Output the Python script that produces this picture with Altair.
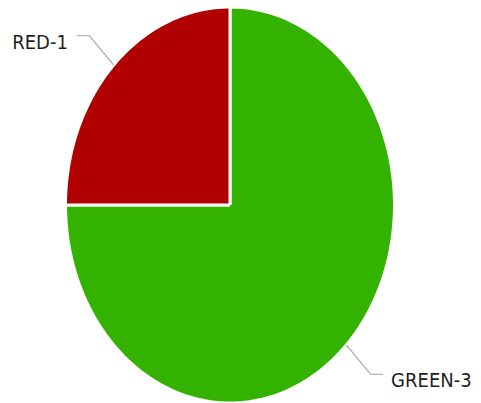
import altair as alt
import pandas as pd

# Data (in drawing order, clockwise from 12 o'clock)
categories = ["GREEN-3", "RED-1"]
values = [3, 1]
colors = ["#33b200", "#b00000"]

df = pd.DataFrame({"category": categories, "value": values, "idx": list(range(len(categories)))})

N = 120          # points along each arc
LEAD = 1.21      # leader outer radius (relative)
HSEG = 0.075     # horizontal leader segment (x units)

W, H = 465, 395
CX, CY = 222, 197     # pie centre in plot pixels
RX, RY = 164.5, 198   # pixel radii (pie is drawn stretched)
xs = alt.Scale(domain=[-CX / RX, (W - CX) / RX], nice=False, zero=False)
ys = alt.Scale(domain=[-(H - CY) / RY, CY / RY], nice=False, zero=False)

base = (
    alt.Chart(df)
    .transform_window(cum="sum(value)", sort=[alt.SortField("idx", order="ascending")], frame=[None, 0])
    .transform_joinaggregate(total="sum(value)")
    .transform_calculate(
        a0="2*PI*(datum.cum - datum.value)/datum.total",
        a1="2*PI*datum.cum/datum.total",
    )
    .transform_calculate(mid="(datum.a0 + datum.a1)/2")
)

slices = (
    base.transform_calculate(seq=f"sequence(-1, {N + 2})")
    .transform_flatten(["seq"], as_=["i"])
    .transform_calculate(
        ang=f"datum.a0 + (datum.i/{N})*(datum.a1 - datum.a0)",
    )
    .transform_calculate(
        px=f"(datum.i < 0 || datum.i > {N}) ? 0 : sin(datum.ang)",
        py=f"(datum.i < 0 || datum.i > {N}) ? 0 : cos(datum.ang)",
    )
    .mark_line(stroke="white", strokeWidth=3, interpolate="linear")
    .encode(
        x=alt.X("px:Q", scale=xs, axis=None),
        y=alt.Y("py:Q", scale=ys, axis=None),
        detail="category:N",
        order=alt.Order("i:Q"),
        fill=alt.Fill("category:N", scale=alt.Scale(domain=categories, range=colors), legend=None),
    )
)

leaders = (
    base.transform_calculate(seq="sequence(0, 3)")
    .transform_flatten(["seq"], as_=["j"])
    .transform_calculate(
        lx=f"datum.j == 0 ? sin(datum.mid) : (datum.j == 1 ? {LEAD}*sin(datum.mid) : {LEAD}*sin(datum.mid) + (sin(datum.mid) < 0 ? -1 : 1)*{HSEG})",
        ly=f"datum.j == 0 ? cos(datum.mid) : {LEAD}*cos(datum.mid)",
    )
    .mark_line(stroke="#b4b4b4", strokeWidth=1.4)
    .encode(
        x=alt.X("lx:Q", scale=xs, axis=None),
        y=alt.Y("ly:Q", scale=ys, axis=None),
        detail="category:N",
        order=alt.Order("j:Q"),
    )
)

lab = base.transform_calculate(
    tx=f"{LEAD}*sin(datum.mid) + (sin(datum.mid) < 0 ? -1 : 1)*{HSEG}",
    ty=f"{LEAD}*cos(datum.mid)",
    side="sin(datum.mid) < 0 ? 'L' : 'R'",
)
font = dict(font="DejaVu Sans Condensed", fontSize=20, color="#1e1e1e", baseline="middle", dy=7)
labels_left = lab.transform_filter("datum.side == 'L'").mark_text(align="right", dx=-9, **font).encode(
    x=alt.X("tx:Q", scale=xs, axis=None), y=alt.Y("ty:Q", scale=ys, axis=None), text="category:N"
)
labels_right = lab.transform_filter("datum.side == 'R'").mark_text(align="left", dx=8, **font).encode(
    x=alt.X("tx:Q", scale=xs, axis=None), y=alt.Y("ty:Q", scale=ys, axis=None), text="category:N"
)

chart = (
    alt.layer(slices, leaders, labels_left, labels_right)
    .properties(width=W, height=H, padding=0, autosize="none")
    .configure_view(stroke=None)
)

chart.save("out.html", embed_options={"renderer": "svg", "actions": False})
